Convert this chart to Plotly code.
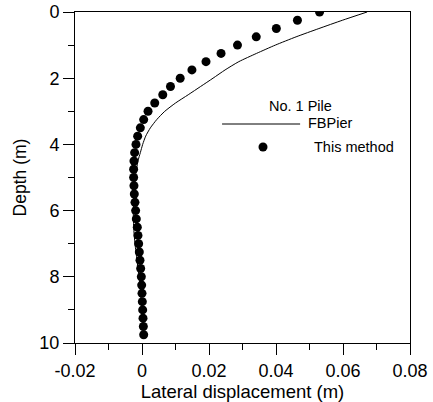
import plotly.graph_objects as go

# This method (points)
depth_pts = [0.0, 0.25, 0.5, 0.75, 1.0, 1.25, 1.5, 1.75, 2.0, 2.25, 2.5, 2.75, 3.0, 3.25,
             3.5, 3.75, 4.0, 4.25, 4.5, 4.75, 5.0, 5.25, 5.5, 5.75, 6.0, 6.25, 6.5, 6.75,
             7.0, 7.25, 7.5, 7.75, 8.0, 8.25, 8.5, 8.75, 9.0, 9.25, 9.5, 9.75]
disp_pts = [0.0530, 0.0464, 0.0401, 0.0341, 0.0285, 0.0236, 0.0191, 0.0149, 0.0114, 0.0085,
            0.0062, 0.0038, 0.0018, 0.0005, -0.0005, -0.0013, -0.0018, -0.0022, -0.0024, -0.0025,
            -0.0025, -0.0024, -0.0023, -0.0021, -0.0019, -0.0017, -0.0014, -0.0012, -0.0010, -0.0008,
            -0.0006, -0.0004, -0.0002, -0.0001, 0.0000, 0.0001, 0.0002, 0.0003, 0.0004, 0.0005]

# FBPier (line)
depth_fb = [0.0, 0.25, 0.5, 0.75, 1.0, 1.25, 1.5, 1.75, 2.0, 2.25, 2.5, 2.75, 3.0, 3.25,
            3.5, 3.75, 4.0, 4.25, 4.5, 5.0, 5.5, 6.0, 6.5, 7.0, 7.5, 8.0, 8.5, 9.0, 9.5, 9.75]
disp_fb = [0.0672, 0.0598, 0.0528, 0.0460, 0.0398, 0.0342, 0.0289, 0.0248, 0.0212, 0.0175,
           0.0138, 0.0100, 0.0068, 0.0044, 0.0025, 0.0011, 0.0002, -0.0005, -0.0012, -0.0020,
           -0.0024, -0.0026, -0.0025, -0.0021, -0.0015, -0.0009, -0.0004, 0.0000, 0.0003, 0.0005]

x_tickvals = [-0.02, 0.0, 0.02, 0.04, 0.06, 0.08]
x_ticktext = ["-0.02", "0", "0.02", "0.04", "0.06", "0.08"]
y_tickvals = [0, 2, 4, 6, 8, 10]
y_ticktext = ["0", "2", "4", "6", "8", "10"]

legend_title = "No. 1 Pile"
name_fb = "FBPier"
name_pts = "This method"

FONT = "Arial, Liberation Sans, sans-serif"

fig = go.Figure()
fig.add_trace(go.Scatter(x=disp_fb, y=depth_fb, mode="lines", name=name_fb,
                         line=dict(color="black", width=1, shape="spline", smoothing=0.6),
                         showlegend=False))
fig.add_trace(go.Scatter(x=disp_pts, y=depth_pts, mode="markers", name=name_pts,
                         marker=dict(color="black", size=9, symbol="circle"), showlegend=False))

# legend drawn manually (paper coordinates)
fig.add_shape(type="line", xref="paper", yref="paper", x0=0.439, x1=0.672, y0=0.6616, y1=0.6616,
              line=dict(color="black", width=1))
fig.add_shape(type="circle", xref="paper", yref="paper", x0=0.5478, x1=0.5746, y0=0.5784, y1=0.6056,
              fillcolor="black", line=dict(color="black", width=0))
fig.add_annotation(text=legend_title, xref="paper", yref="paper", x=0.672, y=0.716,
                   showarrow=False, xanchor="center", yanchor="middle", font=dict(size=14.5, color="black", family=FONT))
fig.add_annotation(text=name_fb, xref="paper", yref="paper", x=0.690, y=0.665,
                   showarrow=False, xanchor="left", yanchor="middle", font=dict(size=14.5, color="black", family=FONT))
fig.add_annotation(text=name_pts, xref="paper", yref="paper", x=0.708, y=0.592,
                   showarrow=False, xanchor="left", yanchor="middle", font=dict(size=14.5, color="black", family=FONT))

fig.update_layout(
    width=433, height=402,
    margin=dict(l=75, r=23, t=12, b=59, autoexpand=False),
    paper_bgcolor="white", plot_bgcolor="white",
    font=dict(family=FONT, size=17, color="black"),
    showlegend=False,
)
fig.update_xaxes(range=[-0.02, 0.08], tickvals=x_tickvals, ticktext=x_ticktext, tickangle=0,
                 automargin=False, tickfont=dict(size=18),
                 ticks="outside", ticklen=11, tickwidth=1, tickcolor="black",
                 minor=dict(dtick=0.01, tick0=0, ticks="outside", ticklen=6, tickcolor="black", tickwidth=1),
                 showline=True, linecolor="black", linewidth=1, mirror=True,
                 showgrid=False, zeroline=False,
                 title=dict(text="Lateral displacement (m)", standoff=4, font=dict(size=18.5)))
fig.update_yaxes(range=[10, 0], tickvals=y_tickvals, ticktext=y_ticktext, automargin=False,
                 tickfont=dict(size=18),
                 ticks="outside", ticklen=11, tickwidth=1, tickcolor="black",
                 minor=dict(dtick=1, tick0=0, ticks="outside", ticklen=6, tickcolor="black", tickwidth=1),
                 showline=True, linecolor="black", linewidth=1, mirror=True,
                 showgrid=False, zeroline=False,
                 title=dict(text="Depth (m)", standoff=8, font=dict(size=17.5)))

fig.write_html("out.html")
